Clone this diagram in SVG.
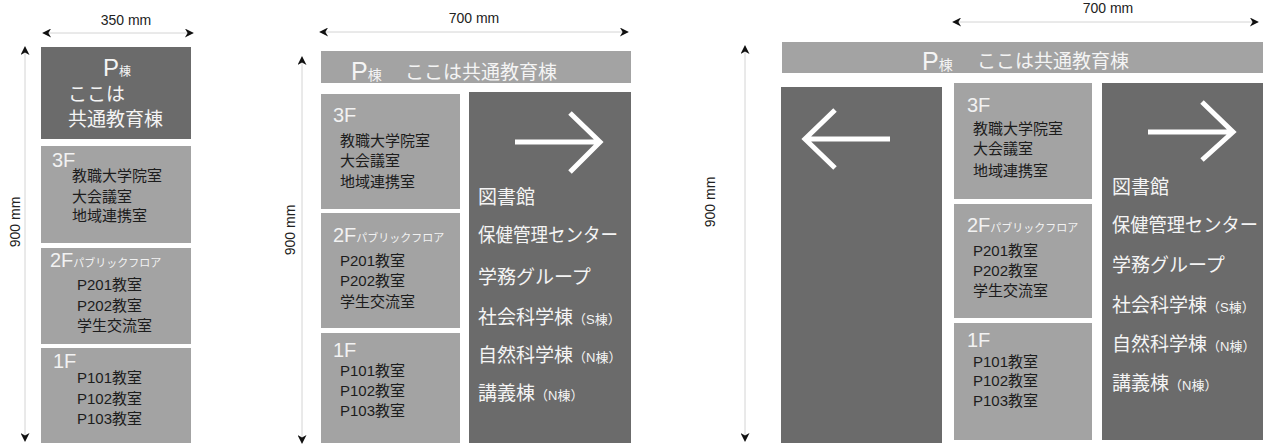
<svg xmlns="http://www.w3.org/2000/svg" width="1265" height="445" viewBox="0 0 1265 445">
<defs>
<marker id="ah" viewBox="0 0 10 10" refX="9" refY="5" markerWidth="10" markerHeight="9" markerUnits="userSpaceOnUse" orient="auto-start-reverse">
<path d="M0,0 L10,5 L0,10 L3,5 Z" fill="#111"/>
</marker>
<style>
.dim{stroke:#d4d4d4;stroke-width:1;fill:none}
.dimt{font-family:"Liberation Sans","Noto Sans CJK JP",sans-serif;font-size:14px;fill:#222}
.dark{fill:#6b6b6b}
.light{fill:#a3a3a3}
.t{font-family:"Liberation Sans","Noto Sans CJK JP",sans-serif}
.fl{fill:#f2f2f2;font-size:20px}
.sub{fill:#f2f2f2;font-size:11px}
.rm{fill:#1c1c1c;font-size:15px}
.wt{fill:#f4f4f4;font-size:19px}
.sm{font-size:13px}
.arr{stroke:#fff;stroke-width:5;fill:none;stroke-linecap:butt;stroke-linejoin:miter}
</style>
</defs>

<g id="connectors">
<line class="dim" x1="43" y1="33" x2="193" y2="33" marker-start="url(#ah)" marker-end="url(#ah)"/>
<line class="dim" x1="25" y1="47" x2="25" y2="441" marker-start="url(#ah)" marker-end="url(#ah)"/>
<line class="dim" x1="320" y1="32" x2="628" y2="32" marker-start="url(#ah)" marker-end="url(#ah)"/>
<line class="dim" x1="302" y1="57" x2="302" y2="443" marker-start="url(#ah)" marker-end="url(#ah)"/>
<line class="dim" x1="953" y1="22" x2="1258" y2="22" marker-start="url(#ah)" marker-end="url(#ah)"/>
<line class="dim" x1="745" y1="46" x2="745" y2="441" marker-start="url(#ah)" marker-end="url(#ah)"/>
</g>

<g id="dimension-labels">
<text class="dimt" x="126" y="25" text-anchor="middle">350 mm</text>
<text class="dimt" transform="translate(20,222) rotate(-90)" text-anchor="middle">900 mm</text>
<text class="dimt" x="474" y="23" text-anchor="middle">700 mm</text>
<text class="dimt" transform="translate(295,230) rotate(-90)" text-anchor="middle">900 mm</text>
<text class="dimt" x="1108" y="13" text-anchor="middle">700 mm</text>
<text class="dimt" transform="translate(715,202) rotate(-90)" text-anchor="middle">900 mm</text>
</g>

<!-- Panel 1 -->
<g id="p1-header">
<rect class="dark" x="41" y="47" width="150" height="92"/>
<text class="t" x="103" y="76" fill="#f4f4f4"><tspan font-size="24">P</tspan><tspan font-size="12">棟</tspan></text>
<text class="t wt" x="68" y="101">ここは</text>
<text class="t wt" x="68" y="126">共通教育棟</text>
</g>
<g id="p1-3f">
<rect class="light" x="41" y="146" width="150" height="97"/>
<text class="t fl" x="52" y="167">3F</text>
<text class="t rm" x="72" y="181">教職大学院室</text>
<text class="t rm" x="72" y="202">大会議室</text>
<text class="t rm" x="72" y="221">地域連携室</text>
</g>
<g id="p1-2f">
<rect class="light" x="41" y="248" width="150" height="96"/>
<text class="t fl" x="50" y="267">2F<tspan class="sub">パブリックフロア</tspan></text>
<text class="t rm" x="77" y="290">P201教室</text>
<text class="t rm" x="77" y="311">P202教室</text>
<text class="t rm" x="77" y="331">学生交流室</text>
</g>
<g id="p1-1f">
<rect class="light" x="41" y="348" width="150" height="95"/>
<text class="t fl" x="53" y="368">1F</text>
<text class="t rm" x="77" y="383">P101教室</text>
<text class="t rm" x="77" y="404">P102教室</text>
<text class="t rm" x="77" y="424">P103教室</text>
</g>

<!-- Panel 2 -->
<g id="p2-header">
<rect class="light" x="321" y="51" width="310" height="32"/>
<text class="t" x="351" y="80" fill="#f4f4f4"><tspan font-size="25">P</tspan><tspan font-size="14">棟</tspan></text>
<text class="t wt" x="405" y="79">ここは共通教育棟</text>
</g>
<g id="p2-3f">
<rect class="light" x="321" y="94" width="139" height="115"/>
<text class="t fl" x="333" y="122">3F</text>
<text class="t rm" x="340" y="146">教職大学院室</text>
<text class="t rm" x="340" y="166">大会議室</text>
<text class="t rm" x="340" y="187">地域連携室</text>
</g>
<g id="p2-2f">
<rect class="light" x="321" y="213" width="139" height="115"/>
<text class="t fl" x="333" y="242">2F<tspan class="sub">パブリックフロア</tspan></text>
<text class="t rm" x="340" y="266">P201教室</text>
<text class="t rm" x="340" y="286">P202教室</text>
<text class="t rm" x="340" y="307">学生交流室</text>
</g>
<g id="p2-1f">
<rect class="light" x="321" y="333" width="139" height="110"/>
<text class="t fl" x="333" y="357">1F</text>
<text class="t rm" x="340" y="376">P101教室</text>
<text class="t rm" x="340" y="396">P102教室</text>
<text class="t rm" x="340" y="416">P103教室</text>
</g>
<g id="p2-direction">
<rect class="dark" x="469" y="92" width="162" height="351"/>
<path class="arr" d="M515,142 H600 M570,113 L600,142 L570,172"/>
<text class="t wt" x="478" y="204">図書館</text>
<text class="t wt" x="478" y="242" textLength="140" lengthAdjust="spacingAndGlyphs">保健管理センター</text>
<text class="t wt" x="478" y="284">学務グループ</text>
<text class="t wt" x="478" y="324">社会科学棟<tspan class="sm">（S棟）</tspan></text>
<text class="t wt" x="478" y="362">自然科学棟<tspan class="sm">（N棟）</tspan></text>
<text class="t wt" x="478" y="400">講義棟<tspan class="sm">（N棟）</tspan></text>
</g>

<!-- Panel 3 -->
<g id="p3-header">
<rect class="light" x="782" y="42" width="481" height="31"/>
<text class="t" x="922" y="70" fill="#f4f4f4"><tspan font-size="25">P</tspan><tspan font-size="14">棟</tspan></text>
<text class="t wt" x="977" y="68">ここは共通教育棟</text>
</g>
<g id="p3-left">
<rect class="dark" x="781" y="87" width="161" height="356"/>
<path class="arr" d="M890,139 H805 M835,110 L805,139 L835,168"/>
</g>
<g id="p3-3f">
<rect class="light" x="954" y="83" width="138" height="116"/>
<text class="t fl" x="967" y="112">3F</text>
<text class="t rm" x="973" y="134">教職大学院室</text>
<text class="t rm" x="973" y="154">大会議室</text>
<text class="t rm" x="973" y="176">地域連携室</text>
</g>
<g id="p3-2f">
<rect class="light" x="954" y="204" width="138" height="114"/>
<text class="t fl" x="967" y="232">2F<tspan class="sub">パブリックフロア</tspan></text>
<text class="t rm" x="973" y="256">P201教室</text>
<text class="t rm" x="973" y="276">P202教室</text>
<text class="t rm" x="973" y="296">学生交流室</text>
</g>
<g id="p3-1f">
<rect class="light" x="954" y="323" width="138" height="117"/>
<text class="t fl" x="967" y="347">1F</text>
<text class="t rm" x="973" y="367">P101教室</text>
<text class="t rm" x="973" y="386">P102教室</text>
<text class="t rm" x="973" y="406">P103教室</text>
</g>
<g id="p3-right">
<rect class="dark" x="1102" y="83" width="161" height="357"/>
<path class="arr" d="M1148,132 H1233 M1202,102 L1233,132 L1202,160"/>
<text class="t wt" x="1112" y="194">図書館</text>
<text class="t wt" x="1112" y="232" textLength="146" lengthAdjust="spacingAndGlyphs">保健管理センター</text>
<text class="t wt" x="1112" y="272">学務グループ</text>
<text class="t wt" x="1112" y="312">社会科学棟<tspan class="sm">（S棟）</tspan></text>
<text class="t wt" x="1112" y="351">自然科学棟<tspan class="sm">（N棟）</tspan></text>
<text class="t wt" x="1112" y="390">講義棟<tspan class="sm">（N棟）</tspan></text>
</g>
</svg>
